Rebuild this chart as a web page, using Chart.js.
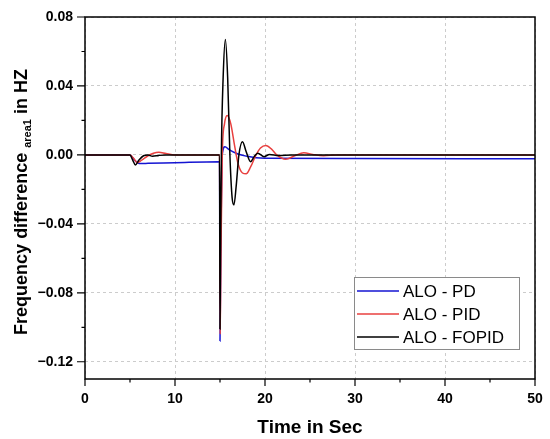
<!DOCTYPE html>
<html>
<head>
<meta charset="utf-8">
<script src="https://cdn.jsdelivr.net/npm/chart.js@4.4.0/dist/chart.umd.min.js"></script>
<style>
  html, body { margin: 0; padding: 0; background: #fff; }
  #wrap { width: 550px; height: 439px; }
</style>
</head>
<body>
<div id="wrap"><canvas id="freqChart"></canvas></div>
<script>
// series (time in s, frequency difference in Hz)
var pdTime  = [0, 5, 5.5, 6, 7, 10, 14.95, 15.0, 15.08, 15.25, 15.55, 16, 17, 18, 19, 20, 30, 50];
var pdValue = [0, 0, -0.003, -0.005, -0.0049, -0.0045, -0.0039, -0.108, -0.06, 0.0, 0.0048, 0.003, 0.0005, -0.0008, -0.0016, -0.0019, -0.0021, -0.0022];

var pidTime  = [0, 5, 5.4, 5.8, 6.3, 7, 7.6, 8.2, 9, 10, 14.95, 15.02, 15.1, 15.25, 15.5, 15.8, 16.2, 16.6, 17.0, 17.5, 17.9, 18.4, 19.0, 19.5, 20.1, 20.7, 21.3, 22.3, 23.3, 24.3, 25.3, 26.5, 28, 50];
var pidValue = [0, 0, -0.002, -0.0045, -0.003, -0.0005, 0.001, 0.0016, 0.0008, 0, 0, -0.104, -0.06, 0, 0.018, 0.0228, 0.018, 0.006, -0.005, -0.0105, -0.011, -0.007, 0, 0.004, 0.0054, 0.0035, 0, -0.0025, -0.0005, 0.0013, 0.0003, -0.0005, 0, 0];

var fopidTime  = [0, 5, 5.3, 5.6, 6.0, 6.5, 7.0, 7.5, 8.2, 9, 14.95, 15.0, 15.05, 15.15, 15.35, 15.6, 15.85, 16.1, 16.35, 16.55, 16.8, 17.1, 17.5, 17.9, 18.4, 18.8, 19.2, 19.9, 20.5, 21.5, 23, 50];
var fopidValue = [0, 0, -0.003, -0.0058, -0.003, -0.0005, 0, -0.0008, -0.0003, 0, 0, -0.101, -0.06, 0, 0.045, 0.067, 0.045, 0, -0.025, -0.029, -0.018, 0, 0.0077, 0.002, -0.0039, -0.001, 0.001, -0.001, 0.0003, -0.0003, 0, 0];

var seriesNames = ["ALO - PD", "ALO - PID", "ALO - FOPID"];
var xTicks = [0, 10, 20, 30, 40, 50];
var xMinorTicks = [5, 15, 25, 35, 45];
var yTicks = [0.08, 0.04, 0, -0.04, -0.08, -0.12];
var yMinorTicks = [0.06, 0.02, -0.02, -0.06, -0.10];

var fontName = "'Liberation Sans', Arial, sans-serif";

function toPoints(times, values) {
    var pts = [];
    for (let i = 0; i < times.length; i++) {
        pts.push({ x: times[i], y: values[i] });
    }
    return pts;
}

function fmtY(v) {
    var s = Math.abs(v).toFixed(2);
    return v < -1e-9 ? "\u2212" + s : s;
}

//frame, tick marks, axis titles and legend
var decorPlugin = {
    id: "decor",
    afterDraw: function(chart) {
        var ctx = chart.ctx;
        var area = chart.chartArea;
        var xs = chart.scales.x;
        var ys = chart.scales.y;

        ctx.save();
        ctx.strokeStyle = "#000";
        ctx.lineWidth = 1.5;
        ctx.strokeRect(area.left, area.top, area.right - area.left, area.bottom - area.top);

        ctx.lineWidth = 1.2;
        ctx.beginPath();
        xTicks.forEach(function(v) {
            var px = xs.getPixelForValue(v);
            ctx.moveTo(px, area.bottom);
            ctx.lineTo(px, area.bottom + 7);
        });
        xMinorTicks.forEach(function(v) {
            var px = xs.getPixelForValue(v);
            ctx.moveTo(px, area.bottom);
            ctx.lineTo(px, area.bottom + 3.5);
        });
        yTicks.forEach(function(v) {
            var py = ys.getPixelForValue(v);
            ctx.moveTo(area.left, py);
            ctx.lineTo(area.left - 8, py);
        });
        yMinorTicks.forEach(function(v) {
            var py = ys.getPixelForValue(v);
            ctx.moveTo(area.left, py);
            ctx.lineTo(area.left - 3.5, py);
        });
        ctx.stroke();

        // x title
        ctx.fillStyle = "#000";
        ctx.font = "bold 19px " + fontName;
        ctx.textAlign = "center";
        ctx.textBaseline = "alphabetic";
        ctx.fillText("Time in Sec", (area.left + area.right) / 2, 433);

        // y title with subscript
        var p1 = "Frequency difference ";
        var sub = "area1";
        var p2 = " in HZ";
        var mainFont = "bold 18px " + fontName;
        var subFont = "bold 11px " + fontName;
        ctx.font = mainFont;
        var w1 = ctx.measureText(p1).width;
        var w3 = ctx.measureText(p2).width;
        ctx.font = subFont;
        var w2 = ctx.measureText(sub).width;
        var total = w1 + w2 + w3;
        ctx.translate(27, (area.top + area.bottom) / 2 + 4);
        ctx.rotate(-Math.PI / 2);
        ctx.textAlign = "left";
        var sx = -total / 2;
        ctx.font = mainFont;
        ctx.fillText(p1, sx, 0);
        ctx.font = subFont;
        ctx.fillText(sub, sx + w1, 4);
        ctx.font = mainFont;
        ctx.fillText(p2, sx + w1 + w2, 0);
        ctx.setTransform(1, 0, 0, 1, 0, 0);
        ctx.restore();

        // legend box
        ctx.save();
        var bx = area.right - 181, by = area.bottom - 102, bw = 165, bh = 72;
        ctx.fillStyle = "#fff";
        ctx.fillRect(bx, by, bw, bh);
        ctx.strokeStyle = "#8a8a8a";
        ctx.lineWidth = 1;
        ctx.strokeRect(bx + 0.5, by + 0.5, bw, bh);
        ctx.font = "17px " + fontName;
        ctx.textBaseline = "middle";
        ctx.textAlign = "left";
        chart.data.datasets.forEach(function(ds, i) {
            var ry = by + 14 + i * 23;
            ctx.strokeStyle = ds.borderColor;
            ctx.lineWidth = 1.5;
            ctx.beginPath();
            ctx.moveTo(bx + 3, ry);
            ctx.lineTo(bx + 45, ry);
            ctx.stroke();
            ctx.fillStyle = "#000";
            ctx.fillText(ds.label, bx + 49, ry + 1);
        });
        ctx.restore();
    }
};

const ctx = document.getElementById("freqChart").getContext("2d");
new Chart(ctx, {
    type: "line",
    data: {
        datasets: [
            { label: seriesNames[0], data: toPoints(pdTime, pdValue), borderColor: "#1414d2", order: 2 },
            { label: seriesNames[1], data: toPoints(pidTime, pidValue), borderColor: "#e8403f", order: 1 },
            { label: seriesNames[2], data: toPoints(fopidTime, fopidValue), borderColor: "#000000", order: 0 }
        ]
    },
    options: {
        responsive: true,
        maintainAspectRatio: false,
        animation: false,
        elements: {
            point: { radius: 0 },
            line: { borderWidth: 1.5, cubicInterpolationMode: "monotone" }
        },
        layout: { padding: { top: 17, right: 15, bottom: 0, left: 0 } },
        plugins: {
            legend: { display: false },
            tooltip: { enabled: false }
        },
        scales: {
            x: {
                type: "linear",
                min: 0,
                max: 50,
                grid: { color: "#cccccc", lineWidth: 1, drawTicks: false },
                border: { display: false, dash: [3, 3] },
                ticks: {
                    padding: 12,
                    color: "#000",
                    font: { family: fontName, size: 14, weight: "bold" }
                },
                afterBuildTicks: function(scale) {
                    scale.ticks = xTicks.map(function(v) { return { value: v }; });
                },
                afterFit: function(scale) {
                    scale.height = 60;
                    scale.paddingLeft = 0;
                    scale.paddingRight = 0;
                }
            },
            y: {
                type: "linear",
                min: -0.13,
                max: 0.08,
                grid: { color: "#cccccc", lineWidth: 1, drawTicks: false },
                border: { display: false, dash: [3, 3] },
                ticks: {
                    padding: 12,
                    color: "#000",
                    font: { family: fontName, size: 14, weight: "bold" },
                    callback: function(v) { return fmtY(v); }
                },
                afterBuildTicks: function(scale) {
                    scale.ticks = yTicks.map(function(v) { return { value: v }; });
                },
                afterFit: function(scale) {
                    scale.width = 85;
                    scale.paddingTop = 0;
                    scale.paddingBottom = 0;
                }
            }
        }
    },
    plugins: [decorPlugin]
});
</script>
</body>
</html>
